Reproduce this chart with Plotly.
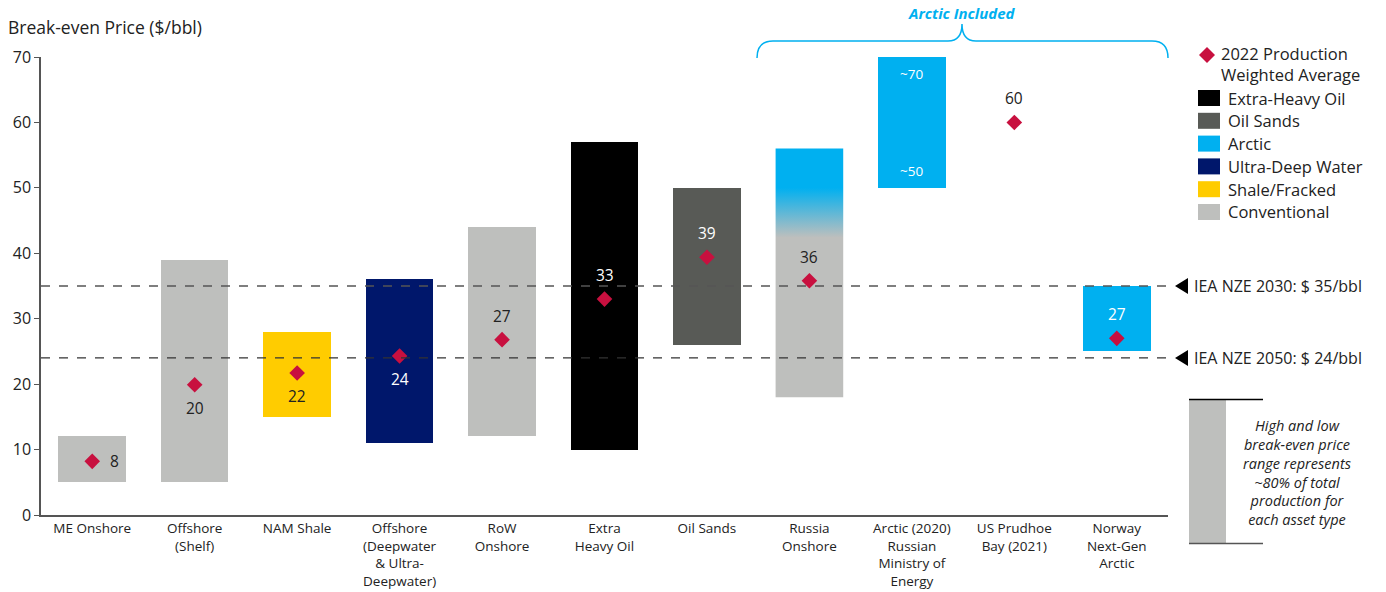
import plotly.graph_objects as go

# ---------------- data ----------------
categories = ["ME Onshore", "Offshore<br>(Shelf)", "NAM Shale",
              "Offshore<br>(Deepwater<br>& Ultra-<br>Deepwater)", "RoW<br>Onshore",
              "Extra<br>Heavy Oil", "Oil Sands", "Russia<br>Onshore",
              "Arctic (2020)<br>Russian<br>Ministry of<br>Energy", "US Prudhoe<br>Bay (2021)",
              "Norway<br>Next-Gen<br>Arctic"]
range_low = [5, 5, 15, 11, 12, 10, 26, 18, 50, None, 25]
range_high = [12, 39, 28, 36, 44, 57, 50, 56, 70, None, 35]
weighted_avg = [8.2, 19.9, 21.7, 24.3, 26.8, 33.0, 39.4, 35.8, None, 60.0, 27.0]
avg_labels = ["8", "20", "22", "24", "27", "33", "39", "36", None, "60", "27"]
asset_type = ["Conventional", "Conventional", "Shale/Fracked", "Ultra-Deep Water",
              "Conventional", "Extra-Heavy Oil", "Oil Sands", "Russia", "Arctic", None, "Arctic"]
arctic_range_labels = ["~70", "~50"]
arctic_range_values = [70, 50]
russia_conventional_top = 42.4   # grey part ends, fades to arctic blue
russia_arctic_from = 50.0
iea_levels = [35, 24]
iea_labels = ["IEA NZE 2030: $ 35/bbl", "IEA NZE 2050: $ 24/bbl"]
legend_names = ["Extra-Heavy Oil", "Oil Sands", "Arctic", "Ultra-Deep Water",
                "Shale/Fracked", "Conventional"]

# ---------------- style ----------------
colors = {"Extra-Heavy Oil": "#000000", "Oil Sands": "#585a56", "Arctic": "#00B0F0",
          "Ultra-Deep Water": "#00176b", "Shale/Fracked": "#FFCC00",
          "Conventional": "#BEBFBD"}
DIAMOND = "#C8103F"
FONT = "Open Sans"
TXT = "#222222"
BAR_W = 0.66
W, H = 1386, 592
L, R, T, B = 41, 218, 57, 77
label_style = ["right", "below", "below", "below", "above", "above", "above", "above",
               None, "above", "above"]
label_white = [False, False, False, True, False, True, True, False, None, False, True]


def px(x):
    return (x - L) / (W - L - R)


def py(y):
    return (H - B - y) / (H - T - B)


def note(x, y, text, xanchor="left", size=15, color=TXT, **kw):
    fig.add_annotation(x=px(x), y=py(y), xref="paper", yref="paper", text=text,
                       showarrow=False, xanchor=xanchor, yanchor="middle",
                       font=dict(family=FONT, size=size, color=color), **kw)


fig = go.Figure()

# plain bars
bx, bbase, bh, bc = [], [], [], []
for i, t in enumerate(asset_type):
    if t is None or t == "Russia":
        continue
    bx.append(i)
    bbase.append(range_low[i])
    bh.append(range_high[i] - range_low[i])
    bc.append(colors[t])
fig.add_trace(go.Bar(x=bx, y=bh, base=bbase, width=BAR_W,
                     marker=dict(color=bc, line=dict(width=0)),
                     hoverinfo="skip", showlegend=False))

# Russia bar with gradient from conventional grey to arctic blue
ri = asset_type.index("Russia")
lo, hi = range_low[ri], range_high[ri]
f1 = (russia_conventional_top - lo) / (hi - lo)
f2 = (russia_arctic_from - lo) / (hi - lo)
fig.add_trace(go.Scatter(
    x=[ri - BAR_W / 2, ri + BAR_W / 2, ri + BAR_W / 2, ri - BAR_W / 2, ri - BAR_W / 2],
    y=[lo, lo, hi, hi, lo], mode="lines", line=dict(width=0), fill="toself",
    fillgradient=dict(type="vertical", start=lo, stop=hi,
                      colorscale=[[0, colors["Conventional"]], [f1, colors["Conventional"]],
                                  [f2, colors["Arctic"]], [1, colors["Arctic"]]]),
    hoverinfo="skip", showlegend=False))

# diamonds
dx = [i for i, v in enumerate(weighted_avg) if v is not None]
dy = [weighted_avg[i] for i in dx]
fig.add_trace(go.Scatter(x=dx, y=dy, mode="markers",
                         marker=dict(symbol="diamond", size=12, color=DIAMOND,
                                     line=dict(width=0)),
                         hoverinfo="skip", showlegend=False))

# value labels
for i, lab in enumerate(avg_labels):
    if lab is None:
        continue
    st = label_style[i]
    col = "#ffffff" if label_white[i] else TXT
    kw = dict(x=i, y=weighted_avg[i], xref="x", yref="y", text=lab, showarrow=False,
              xanchor="center", yanchor="middle",
              font=dict(family=FONT, size=15.5, color=col))
    if st == "right":
        kw.update(xshift=22)
    elif st == "below":
        kw.update(yshift=-23)
    else:
        kw.update(yshift=24)
    fig.add_annotation(**kw)

ai = asset_type.index("Arctic")
for lab, v, sh in zip(arctic_range_labels, arctic_range_values, [-17, 17]):
    fig.add_annotation(x=ai, y=v, xref="x", yref="y", text=lab, showarrow=False, yshift=sh,
                       xanchor="center", yanchor="middle",
                       font=dict(family=FONT, size=13.5, color="#ffffff"))

# IEA lines
for lvl, lab, dc in zip(iea_levels, iea_labels, ["#555555", "#333333"]):
    fig.add_shape(type="line", xref="paper", yref="y", x0=0, x1=px(1170), y0=lvl, y1=lvl,
                  line=dict(color=dc, width=1.3, dash="dash"))
    fig.add_shape(type="path", xref="paper", yref="y",
                  path=f"M {px(1175)} {lvl} L {px(1188)} {lvl + 8 / 6.543} "
                       f"L {px(1188)} {lvl - 8 / 6.543} Z",
                  fillcolor="#000000", line=dict(width=0))
    fig.add_annotation(x=px(1192), y=lvl, xref="paper", yref="y", text=lab, showarrow=False,
                       xanchor="left", yanchor="middle",
                       font=dict(family=FONT, size=16, color=TXT))

# Arctic Included brace
brace = (f"M {px(757)} {py(58)} Q {px(757)} {py(41)} {px(773)} {py(41)} "
         f"L {px(948)} {py(41)} Q {px(962)} {py(41)} {px(962)} {py(24)} "
         f"Q {px(962)} {py(41)} {px(976)} {py(41)} "
         f"L {px(1152)} {py(41)} Q {px(1168)} {py(41)} {px(1168)} {py(58)}")
fig.add_shape(type="path", xref="paper", yref="paper", path=brace,
              line=dict(color="#00B0F0", width=1.5))
note(962, 13, "<b><i>Arctic Included</i></b>", xanchor="center", size=15, color="#00B0F0")

# y title
note(6, 27, "Break-even Price ($/bbl)", size=17.5)

# legend (custom)
fig.add_shape(type="path", xref="paper", yref="paper",
              path=f"M {px(1199)} {py(55)} L {px(1207)} {py(47)} L {px(1215)} {py(55)} "
                   f"L {px(1207)} {py(63)} Z", fillcolor=DIAMOND, line=dict(width=0))
note(1219, 64, "2022 Production<br>Weighted Average", size=16.5, align="left")
for k, name in enumerate(legend_names):
    cy = 98 + k * 22.8
    fig.add_shape(type="rect", xref="paper", yref="paper", x0=px(1198), x1=px(1220),
                  y0=py(cy - 8), y1=py(cy + 8), fillcolor=colors[name], line=dict(width=0))
    note(1226, cy, name, size=16.5)

# range explanation box
fig.add_shape(type="rect", xref="paper", yref="paper", x0=px(1189), x1=px(1226),
              y0=py(400), y1=py(543), fillcolor=colors["Conventional"], line=dict(width=0))
fig.add_shape(type="line", xref="paper", yref="paper", x0=px(1189), x1=px(1263),
              y0=py(399.5), y1=py(399.5), line=dict(color="#000000", width=1.5))
fig.add_shape(type="line", xref="paper", yref="paper", x0=px(1189), x1=px(1263),
              y0=py(543.5), y1=py(543.5), line=dict(color="#555555", width=1.5))
note(1297, 472, "<i>High and low<br>break-even price<br>range represents<br>"
                "~80% of total<br>production for<br>each asset type</i>",
     xanchor="center", size=14.5, align="center")

fig.update_layout(
    width=W, height=H, margin=dict(l=L, r=R, t=T, b=B, autoexpand=False),
    plot_bgcolor="white", paper_bgcolor="white", showlegend=False, bargap=0,
    xaxis=dict(range=[-0.5, len(categories) - 0.5], tickvals=list(range(len(categories))),
               ticktext=categories, showgrid=False, zeroline=False, showline=True,
               linecolor="#555555", linewidth=1.5, ticks="", automargin=False,
               tickfont=dict(family=FONT, size=13.5, color=TXT)),
    yaxis=dict(range=[0, 70], dtick=10, showgrid=False, zeroline=False, showline=True,
               linecolor="#555555", linewidth=1.5, ticks="outside", ticklen=5,
               automargin=False,
               tickcolor="#555555", tickfont=dict(family=FONT, size=16, color=TXT)),
)

fig.write_html("out.html")
